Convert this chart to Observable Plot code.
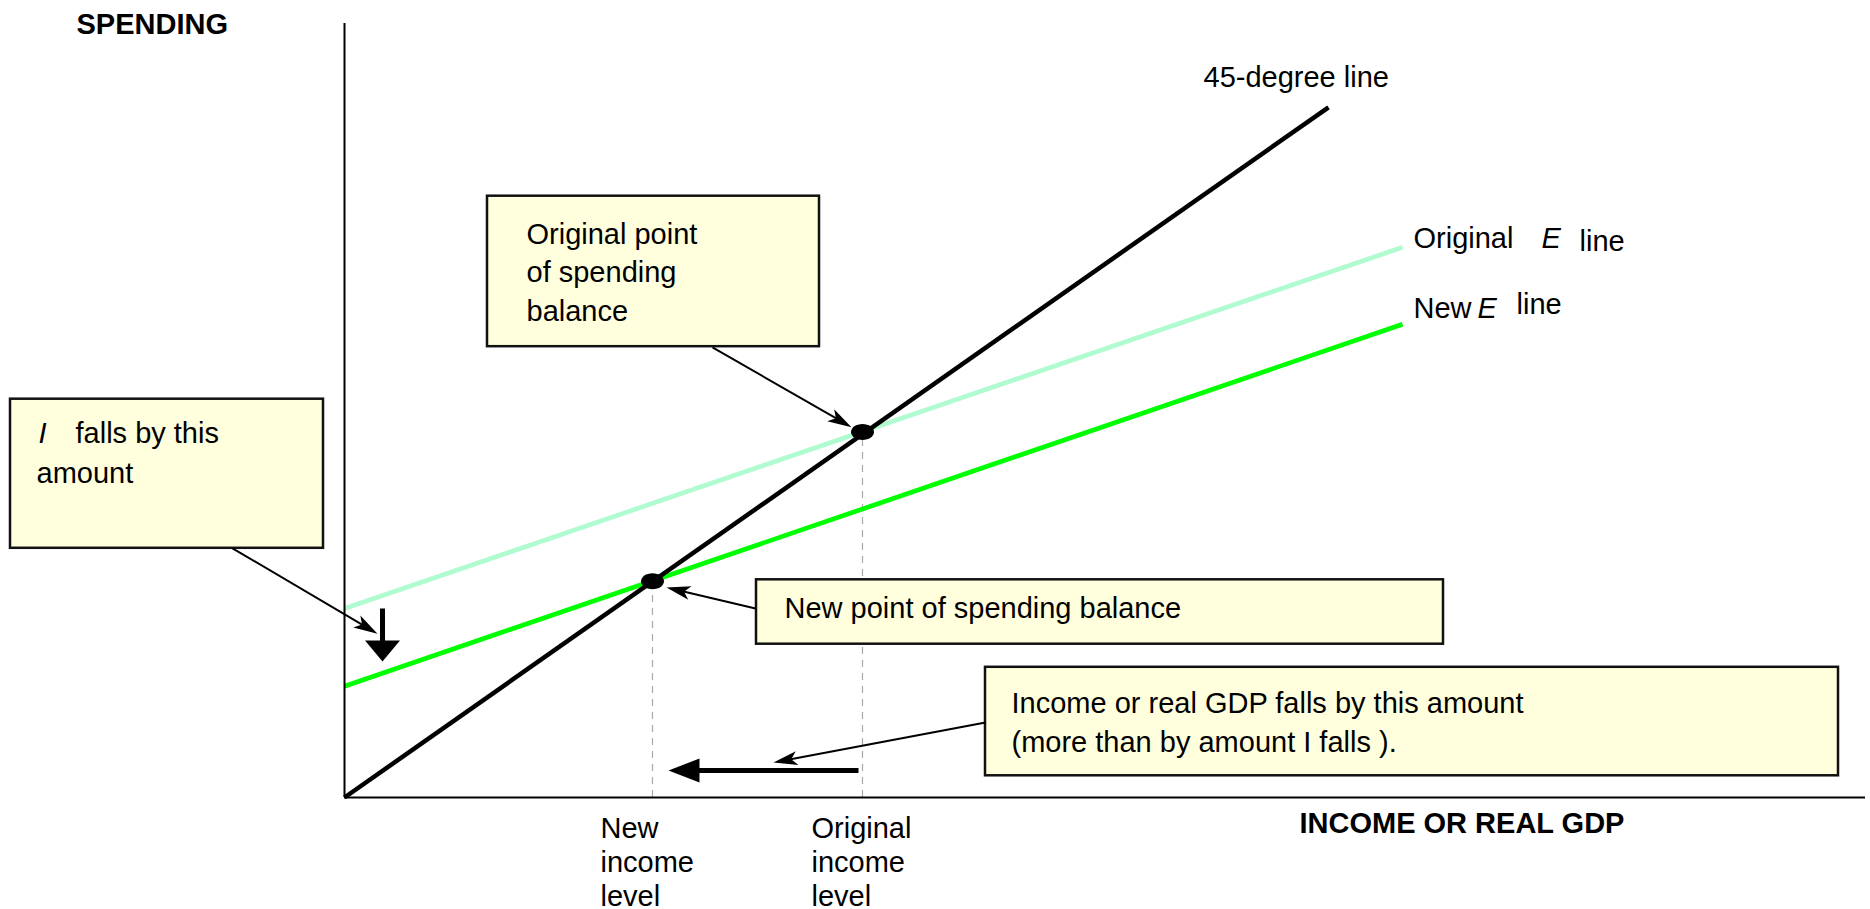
<!DOCTYPE html>
<html>
<head>
<meta charset="utf-8">
<script src="https://cdn.jsdelivr.net/npm/d3@7"></script>
<script src="https://cdn.jsdelivr.net/npm/@observablehq/plot@0.6"></script>
<style>
  html, body { margin: 0; padding: 0; background: #fff; }
  #chart svg { display: block; }
</style>
</head>
<body>
<div id="chart"></div>
<script>
// ---------- data (conceptual units: income on x, spending on y) ----------
const xDomain = [0, 152.1];
const yDomain = [0, 110.57];

const fortyFiveLine = [[0, 0], [98.4, 98.6]];
const originalELine = [[0, 27.0], [105.8, 78.6]];
const newELine      = [[0, 15.9], [105.8, 67.6]];

const equilibriumNames = ["Original", "New"];
const equilibriumX = [51.8, 30.8];
const equilibriumY = [52.2, 30.9];

const boxIds = ["original", "ifalls", "newpoint", "income"];
const boxX1 = [14.3, -33.4, 41.2, 64.1];
const boxX2 = [47.5, -2.1, 109.9, 149.4];
const boxY1 = [64.4, 35.6, 21.9, 3.1];
const boxY2 = [85.9, 56.9, 31.1, 18.6];

// leader arrows: from box edge to target
const leaderFromX = [36.8, -11.2, 41.1, 64.1];
const leaderFromY = [64.3, 35.6, 27.0, 10.7];
const leaderToX   = [50.7, 3.3, 32.2, 42.9];
const leaderToY   = [52.9, 23.4, 30.0, 5.0];

// thick shift arrows: fall in I (down) and fall in income (left)
const shiftNames = ["I falls", "Income falls"];
const shiftFromX = [3.8, 51.4];
const shiftFromY = [27.0, 3.86];
const shiftToX   = [3.8, 32.4];
const shiftToY   = [19.43, 3.86];

// labels
const labelTexts = [
  "Original point\nof spending\nbalance",
  "I",
  "falls by this",
  "amount",
  "New point of spending balance",
  "Income or real GDP falls by this amount\n(more than by amount I falls ).",
  "New\nincome\nlevel",
  "Original\nincome\nlevel",
  "45-degree line",
  "Original",
  "E",
  "line",
  "New",
  "E",
  "line",
  "SPENDING",
  "INCOME OR REAL GDP"
];
const labelX = [18.2, -30.6, -26.9, -30.8, 44.0, 66.7, 25.6, 46.7, 85.9, 106.9, 119.7, 123.5, 106.9, 113.3, 117.2, -26.8, 95.5];
const labelY = [68.1, 50.6, 50.6, 44.9, 25.6, 6.43, -15.43, -15.43, 101.43, 78.43, 78.43, 78.14, 68.57, 68.43, 69.0, 109.14, -5.14];

// ---------- helpers ----------
const M = {left: 344, right: 5, top: 23, bottom: 112};
const W = 1870, H = 909;
const sx = d3.scaleLinear(xDomain, [M.left, W - M.right]);
const sy = d3.scaleLinear(yDomain, [H - M.bottom, M.top]);

function pxAngle(x1, y1, x2, y2) {
  return Math.atan2(sy(y2) - sy(y1), sx(x2) - sx(x1));
}
// move the end point back toward the start by len pixels (returns data coords)
function pullBack(x1, y1, x2, y2, len) {
  const a = pxAngle(x1, y1, x2, y2);
  return [sx.invert(sx(x2) - len * Math.cos(a)), sy.invert(sy(y2) - len * Math.sin(a))];
}
function headSymbol(angle, L, Wd, notch) {
  const c = Math.cos(angle), s = Math.sin(angle);
  const pts = [[0, 0], [-L, -Wd / 2], [-L + notch, 0], [-L, Wd / 2]]
    .map(([u, v]) => [u * c - v * s, u * s + v * c]);
  return {
    draw(ctx) {
      ctx.moveTo(pts[0][0], pts[0][1]);
      for (let i = 1; i < pts.length; ++i) ctx.lineTo(pts[i][0], pts[i][1]);
      ctx.closePath();
    }
  };
}
const ellipseSymbol = {
  draw(ctx) {
    const rx = 11.5, ry = 8, k = 0.5523;
    ctx.moveTo(rx, 0);
    ctx.bezierCurveTo(rx, ry * k, rx * k, ry, 0, ry);
    ctx.bezierCurveTo(-rx * k, ry, -rx, ry * k, -rx, 0);
    ctx.bezierCurveTo(-rx, -ry * k, -rx * k, -ry, 0, -ry);
    ctx.bezierCurveTo(rx * k, -ry, rx, -ry * k, rx, 0);
    ctx.closePath();
  }
};

// ---------- tables built from arrays ----------
const toPts = (arr) => arr.map(([x, y]) => ({x, y}));
const equilibria = equilibriumNames.map((name, i) => ({name, x: equilibriumX[i], y: equilibriumY[i]}));
const boxes = boxIds.map((id, i) => ({id, x1: boxX1[i], x2: boxX2[i], y1: boxY1[i], y2: boxY2[i]}));
const leaders = leaderFromX.map((_, i) => {
  const [ex, ey] = pullBack(leaderFromX[i], leaderFromY[i], leaderToX[i], leaderToY[i], 12);
  return {x1: leaderFromX[i], y1: leaderFromY[i], x2: ex, y2: ey, tx: leaderToX[i], ty: leaderToY[i],
          angle: pxAngle(leaderFromX[i], leaderFromY[i], leaderToX[i], leaderToY[i])};
});
const shiftHeads = [{L: 21, W: 35}, {L: 31, W: 24}];
const shifts = shiftNames.map((name, i) => {
  const [ex, ey] = pullBack(shiftFromX[i], shiftFromY[i], shiftToX[i], shiftToY[i], shiftHeads[i].L * 0.6);
  return {name, x1: shiftFromX[i], y1: shiftFromY[i], x2: ex, y2: ey, tx: shiftToX[i], ty: shiftToY[i],
          angle: pxAngle(shiftFromX[i], shiftFromY[i], shiftToX[i], shiftToY[i]), head: shiftHeads[i]};
});
const labels = labelTexts.map((text, i) => ({text, x: labelX[i], y: labelY[i], i}));

// per-label typography
const italicIdx = new Set([1, 10, 13]);
const boldIdx = new Set([15, 16]);
const lineHeightOf = {0: 1.33, 5: 1.345, 6: 1.17, 7: 1.17};

const marks = [
  // dashed guides from the equilibria to the income axis
  Plot.ruleX(equilibria, {x: "x", y1: 0, y2: "y", stroke: "#a8a8a8", strokeWidth: 1.2, strokeDasharray: "7,6"}),
  // expenditure lines and 45-degree line
  Plot.line(toPts(originalELine), {x: "x", y: "y", stroke: "#b0fcd0", strokeWidth: 4.7, strokeLinecap: "butt"}),
  Plot.line(toPts(newELine), {x: "x", y: "y", stroke: "#00ff00", strokeWidth: 4.7, strokeLinecap: "butt"}),
  Plot.line(toPts(fortyFiveLine), {x: "x", y: "y", stroke: "#000", strokeWidth: 4.5, strokeLinecap: "butt"}),
  // axes
  Plot.ruleX([0], {stroke: "#000", strokeWidth: 2}),
  Plot.ruleY([0], {stroke: "#000", strokeWidth: 2}),
  // annotation boxes
  Plot.rect(boxes, {x1: "x1", x2: "x2", y1: "y1", y2: "y2", fill: "#ffffdd", stroke: "#111", strokeWidth: 2.5}),
  // leader lines
  Plot.link(leaders, {x1: "x1", y1: "y1", x2: "x2", y2: "y2", stroke: "#000", strokeWidth: 2, strokeLinecap: "butt"}),
  ...leaders.map(d => Plot.dot([d], {x: "tx", y: "ty", r: 1, symbol: headSymbol(d.angle, 24, 14, 6), fill: "#000", stroke: "none"})),
  // thick shift arrows
  Plot.link(shifts, {x1: "x1", y1: "y1", x2: "x2", y2: "y2", stroke: "#000", strokeWidth: 5, strokeLinecap: "butt"}),
  ...shifts.map(d => Plot.dot([d], {x: "tx", y: "ty", r: 1, symbol: headSymbol(d.angle, d.head.L, d.head.W, 0), fill: "#000", stroke: "none"})),
  // equilibrium points
  Plot.dot(equilibria, {x: "x", y: "y", r: 1, symbol: ellipseSymbol, fill: "#000", stroke: "none"}),
  // labels
  ...labels.map(d => Plot.text([d], {
    x: "x", y: "y", text: "text",
    fontSize: 29,
    textAnchor: "start",
    lineAnchor: "bottom",
    lineHeight: lineHeightOf[d.i] || 1.2,
    fontStyle: italicIdx.has(d.i) ? "italic" : "normal",
    fontWeight: boldIdx.has(d.i) ? "bold" : "normal",
    fill: "#000"
  }))
];

const chart = Plot.plot({
  width: W,
  height: H,
  marginLeft: M.left,
  marginRight: M.right,
  marginTop: M.top,
  marginBottom: M.bottom,
  x: {domain: xDomain, axis: null},
  y: {domain: yDomain, axis: null},
  style: {fontFamily: "'Liberation Sans', Arial, Helvetica, sans-serif", background: "#fff", overflow: "visible"},
  marks
});
document.getElementById("chart").appendChild(chart);
</script>
</body>
</html>
